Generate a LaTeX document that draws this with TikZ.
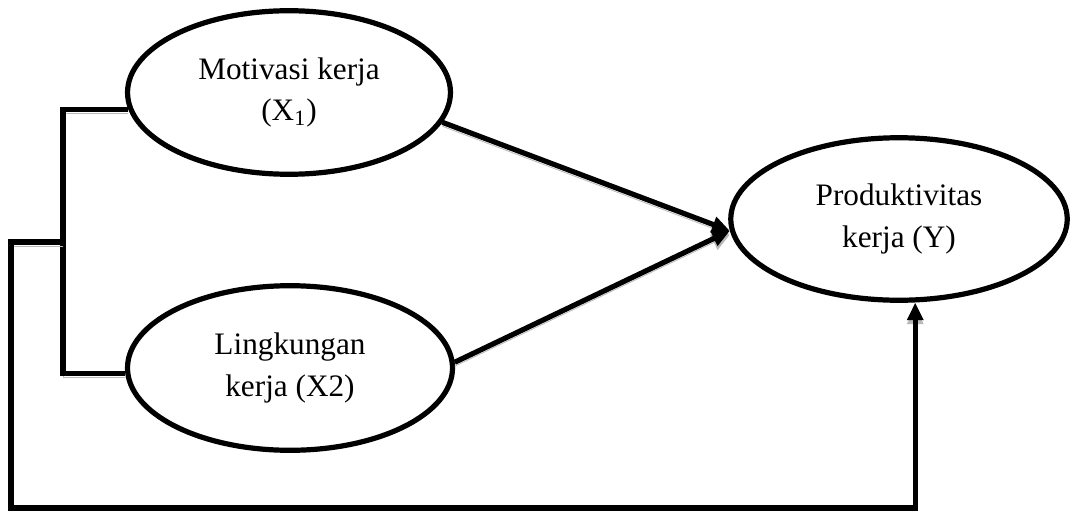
\documentclass[tikz,border=0pt]{standalone}
\usepackage{fontspec}
\setmainfont{Liberation Serif}
\usetikzlibrary{shapes.geometric,arrows.meta}

\begin{document}
\begin{tikzpicture}[
    x=0.48pt, y=-0.48pt,
    var/.style={ellipse, draw, line width=2.5pt, inner sep=0pt, align=center,
        font=\fontsize{15}{20}\selectfont},
    link/.style={line width=2.5pt,
        preaction={draw=gray!55, transform canvas={yshift=-1.9pt}}},
    >={Triangle[length=8.5pt,width=7.5pt]}
]
\useasboundingbox (0,0) rectangle (1072,511);

% Variables
\node[var, minimum width=155pt, minimum height=78.5pt] (M) at (289,92.5)
    {Motivasi kerja\\(X\textsubscript{1})};
\node[var, minimum width=156pt, minimum height=79pt] (L) at (290,368)
    {Lingkungan\\kerja (X2)};
\node[var, minimum width=161.5pt, minimum height=78pt] (P) at (899,219)
    {Produktivitas\\kerja (Y)};

% Junctions
\coordinate (J) at (63,242);
\coordinate (C) at (11,508);

% Connections
\draw[link] (M.186) -| (J) |- (L.182);
\draw[link, ->] (M.-11) -- (P.184);
\draw[link, ->] (L.2) -- (P.184);
\draw[link, ->] (J) -| (C) -| (P.-79);
\end{tikzpicture}
\end{document}
